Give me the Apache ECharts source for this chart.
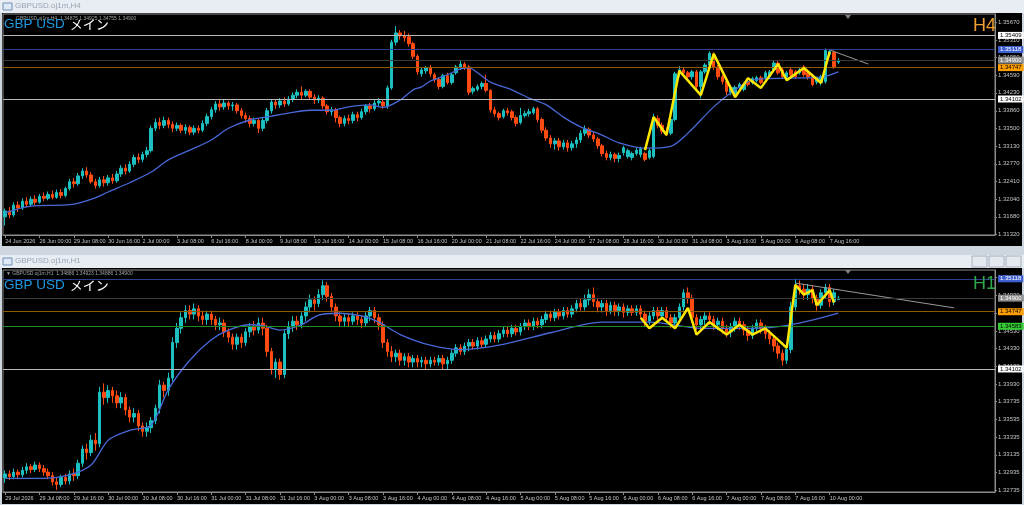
<!DOCTYPE html>
<html><head><meta charset="utf-8">
<script src="https://cdn.jsdelivr.net/npm/echarts@6/dist/echarts.min.js"></script>
<style>html,body{margin:0;padding:0;background:#d3dbe4}#c{width:1024px;height:505px}</style>
</head><body><div id="c"></div>
<script>
// ---------- tick labels ----------
const h4TickLabels=['24 Jun 2026','26 Jun 00:00','29 Jun 08:00','30 Jun 16:00','2 Jul 00:00','3 Jul 08:00','6 Jul 16:00','8 Jul 00:00','9 Jul 08:00','10 Jul 16:00','14 Jul 00:00','15 Jul 08:00','16 Jul 16:00','20 Jul 00:00','21 Jul 08:00','22 Jul 16:00','24 Jul 00:00','27 Jul 08:00','28 Jul 16:00','30 Jul 00:00','31 Jul 08:00','3 Aug 16:00','5 Aug 00:00','6 Aug 08:00','7 Aug 16:00'];
const h1TickLabels=['29 Jul 2026','29 Jul 08:00','29 Jul 16:00','30 Jul 00:00','30 Jul 08:00','30 Jul 16:00','31 Jul 00:00','31 Jul 08:00','31 Jul 16:00','3 Aug 00:00','3 Aug 08:00','3 Aug 16:00','4 Aug 00:00','4 Aug 08:00','4 Aug 16:00','5 Aug 00:00','5 Aug 08:00','5 Aug 16:00','6 Aug 00:00','6 Aug 08:00','6 Aug 16:00','7 Aug 00:00','7 Aug 08:00','7 Aug 16:00','10 Aug 00:00'];
const h4PriceTicks=[1.31320,1.31680,1.32040,1.32410,1.32770,1.33130,1.33500,1.33860,1.34230,1.34590,1.34950,1.35310,1.35670];
const h1PriceTicks=[1.32735,1.32935,1.33135,1.33335,1.33535,1.33735,1.33930,1.34130,1.34330,1.34530,1.34730,1.34930,1.35130];

// ---------- H4 candles [open, close, low, high] ----------
const h4Candles=[
[1.3168,1.3180,1.3150,1.3185],[1.3180,1.3172,1.3165,1.3188],[1.3172,1.3192,1.3168,1.3198],[1.3192,1.3186,1.3178,1.3200],
[1.3186,1.3200,1.3182,1.3206],[1.3200,1.3194,1.3188,1.3208],[1.3194,1.3204,1.3190,1.3210],[1.3204,1.3198,1.3192,1.3212],
[1.3198,1.3210,1.3195,1.3215],[1.3210,1.3206,1.3200,1.3218],[1.3206,1.3214,1.3202,1.3220],[1.3214,1.3208,1.3204,1.3222],
[1.3208,1.3218,1.3205,1.3224],[1.3218,1.3212,1.3206,1.3225],[1.3212,1.3226,1.3208,1.3230],[1.3226,1.3240,1.3222,1.3246],
[1.3240,1.3236,1.3228,1.3248],[1.3236,1.3252,1.3232,1.3258],[1.3252,1.3262,1.3246,1.3268],[1.3262,1.3254,1.3248,1.3270],
[1.3254,1.3240,1.3236,1.3260],[1.3240,1.3232,1.3226,1.3246],[1.3232,1.3244,1.3228,1.3250],[1.3244,1.3238,1.3230,1.3252],
[1.3238,1.3248,1.3232,1.3254],[1.3248,1.3242,1.3236,1.3256],[1.3242,1.3256,1.3238,1.3262],[1.3256,1.3268,1.3250,1.3274],
[1.3268,1.3262,1.3255,1.3276],[1.3262,1.3276,1.3258,1.3282],[1.3276,1.3290,1.3270,1.3296],[1.3290,1.3286,1.3278,1.3298],
[1.3286,1.3296,1.3280,1.3302],[1.3296,1.3304,1.3290,1.3312],[1.3304,1.3350,1.3300,1.3356],[1.3350,1.3362,1.3344,1.3370],
[1.3362,1.3356,1.3348,1.3372],[1.3356,1.3366,1.3350,1.3374],[1.3366,1.3358,1.3350,1.3372],[1.3358,1.3350,1.3342,1.3364],
[1.3350,1.3356,1.3344,1.3362],[1.3356,1.3346,1.3340,1.3360],[1.3346,1.3352,1.3338,1.3358],[1.3352,1.3342,1.3336,1.3356],
[1.3342,1.3350,1.3336,1.3356],[1.3350,1.3346,1.3340,1.3356],[1.3346,1.3360,1.3342,1.3366],[1.3360,1.3374,1.3354,1.3380],
[1.3374,1.3388,1.3368,1.3394],[1.3388,1.3400,1.3382,1.3406],[1.3400,1.3394,1.3386,1.3410],[1.3394,1.3402,1.3388,1.3408],
[1.3402,1.3396,1.3388,1.3406],[1.3396,1.3398,1.3386,1.3404],[1.3398,1.3386,1.3380,1.3402],[1.3386,1.3376,1.3370,1.3392],
[1.3376,1.3370,1.3362,1.3382],[1.3370,1.3360,1.3352,1.3376],[1.3360,1.3366,1.3354,1.3372],[1.3366,1.3350,1.3340,1.3370],
[1.3350,1.3366,1.3344,1.3372],[1.3366,1.3386,1.3360,1.3392],[1.3386,1.3404,1.3380,1.3410],[1.3404,1.3398,1.3390,1.3410],
[1.3398,1.3406,1.3392,1.3412],[1.3406,1.3400,1.3394,1.3414],[1.3400,1.3410,1.3396,1.3416],[1.3410,1.3418,1.3404,1.3424],
[1.3418,1.3424,1.3412,1.3430],[1.3424,1.3418,1.3410,1.3436],[1.3418,1.3426,1.3414,1.3430],[1.3426,1.3414,1.3408,1.3430],
[1.3414,1.3408,1.3400,1.3420],[1.3408,1.3412,1.3402,1.3418],[1.3412,1.3396,1.3390,1.3416],[1.3396,1.3384,1.3378,1.3400],
[1.3384,1.3388,1.3376,1.3394],[1.3388,1.3372,1.3362,1.3392],[1.3372,1.3360,1.3352,1.3376],[1.3360,1.3370,1.3354,1.3376],
[1.3370,1.3366,1.3358,1.3378],[1.3366,1.3378,1.3360,1.3384],[1.3378,1.3372,1.3364,1.3384],[1.3372,1.3384,1.3368,1.3390],
[1.3384,1.3396,1.3378,1.3400],[1.3396,1.3390,1.3382,1.3402],[1.3390,1.3402,1.3386,1.3408],[1.3402,1.3406,1.3396,1.3412],
[1.3404,1.3396,1.3390,1.3410],[1.3396,1.3433,1.3390,1.3438],[1.3433,1.3527,1.3429,1.3532],[1.3527,1.3546,1.3520,1.3560],
[1.3546,1.3540,1.3532,1.3552],[1.3540,1.3536,1.3528,1.3550],[1.3538,1.3524,1.3518,1.3545],[1.3524,1.3498,1.3492,1.3528],
[1.3498,1.3466,1.3460,1.3502],[1.3462,1.3470,1.3456,1.3474],[1.3468,1.3474,1.3462,1.3478],[1.3474,1.3462,1.3456,1.3480],
[1.3460,1.3450,1.3444,1.3464],[1.3450,1.3436,1.3430,1.3454],[1.3436,1.3458,1.3432,1.3462],[1.3458,1.3444,1.3440,1.3464],
[1.3444,1.3460,1.3440,1.3464],[1.3464,1.3476,1.3460,1.3480],[1.3476,1.3482,1.3470,1.3490],[1.3482,1.3476,1.3470,1.3486],
[1.3476,1.3424,1.3418,1.3480],[1.3426,1.3432,1.3420,1.3436],[1.3430,1.3436,1.3426,1.3440],[1.3436,1.3442,1.3430,1.3446],
[1.3442,1.3428,1.3424,1.3460],[1.3428,1.3388,1.3382,1.3430],[1.3388,1.3380,1.3374,1.3394],[1.3380,1.3372,1.3366,1.3384],
[1.3374,1.3386,1.3370,1.3390],[1.3386,1.3382,1.3376,1.3392],[1.3384,1.3372,1.3366,1.3388],[1.3372,1.3360,1.3354,1.3376],
[1.3362,1.3376,1.3358,1.3392],[1.3376,1.3380,1.3372,1.3386],[1.3380,1.3384,1.3374,1.3390],[1.3382,1.3390,1.3378,1.3394],
[1.3390,1.3368,1.3362,1.3394],[1.3368,1.3346,1.3340,1.3372],[1.3346,1.3330,1.3324,1.3352],[1.3330,1.3318,1.3310,1.3336],
[1.3318,1.3324,1.3306,1.3330],[1.3324,1.3312,1.3304,1.3330],[1.3312,1.3320,1.3306,1.3326],[1.3320,1.3310,1.3302,1.3326],
[1.3310,1.3318,1.3304,1.3324],[1.3318,1.3326,1.3310,1.3332],[1.3326,1.3340,1.3320,1.3346],[1.3340,1.3348,1.3334,1.3356],
[1.3348,1.3336,1.3330,1.3352],[1.3336,1.3328,1.3322,1.3342],[1.3328,1.3314,1.3308,1.3332],[1.3314,1.3298,1.3292,1.3318],
[1.3298,1.3290,1.3284,1.3304],[1.3290,1.3296,1.3284,1.3302],[1.3296,1.3288,1.3280,1.3300],[1.3288,1.3294,1.3280,1.3300],
[1.3300,1.3310,1.3294,1.3314],[1.3292,1.3304,1.3288,1.3308],[1.3290,1.3298,1.3284,1.3302],[1.3298,1.3305,1.3294,1.3310],
[1.3296,1.3308,1.3290,1.3312],[1.3298,1.3286,1.3282,1.3302],[1.3290,1.3304,1.3286,1.3308],[1.3292,1.3372,1.3288,1.3380],
[1.3370,1.3356,1.3350,1.3376],[1.3356,1.3344,1.3338,1.3362],[1.3344,1.3340,1.3334,1.3352],[1.3340,1.3368,1.3336,1.3372],
[1.3368,1.3462,1.3364,1.3466],[1.3462,1.3470,1.3456,1.3478],[1.3470,1.3464,1.3458,1.3474],[1.3464,1.3456,1.3450,1.3468],
[1.3456,1.3466,1.3450,1.3470],[1.3466,1.3436,1.3430,1.3470],[1.3436,1.3466,1.3412,1.3470],[1.3466,1.3480,1.3462,1.3484],
[1.3480,1.3504,1.3476,1.3508],[1.3502,1.3476,1.3470,1.3506],[1.3476,1.3456,1.3450,1.3480],[1.3456,1.3446,1.3440,1.3460],
[1.3446,1.3426,1.3418,1.3450],[1.3424,1.3434,1.3418,1.3438],[1.3420,1.3434,1.3414,1.3438],[1.3434,1.3440,1.3430,1.3444],
[1.3430,1.3440,1.3426,1.3444],[1.3446,1.3440,1.3436,1.3450],[1.3444,1.3452,1.3440,1.3456],[1.3448,1.3454,1.3444,1.3458],
[1.3454,1.3444,1.3440,1.3458],[1.3454,1.3464,1.3450,1.3468],[1.3456,1.3466,1.3452,1.3470],[1.3470,1.3484,1.3466,1.3490],
[1.3484,1.3464,1.3460,1.3488],[1.3470,1.3456,1.3452,1.3474],[1.3456,1.3464,1.3452,1.3468],[1.3470,1.3460,1.3456,1.3474],
[1.3466,1.3456,1.3452,1.3470],[1.3464,1.3470,1.3460,1.3474],[1.3476,1.3460,1.3456,1.3480],[1.3464,1.3456,1.3450,1.3468],
[1.3456,1.3440,1.3436,1.3460],[1.3445,1.3452,1.3440,1.3456],[1.3444,1.3456,1.3438,1.3460],[1.3446,1.3510,1.3442,1.3514],
[1.3502,1.3508,1.3498,1.3512],[1.3506,1.3476,1.3472,1.3510],[1.3486,1.3490,1.3482,1.3494]
];

// ---------- H1 candles [open, close, low, high] ----------
const h1Candles=[
[1.3288,1.3292,1.3282,1.3296],[1.3292,1.3289,1.3285,1.3296],[1.3289,1.3294,1.3286,1.3298],[1.3294,1.3291,1.3287,1.3297],
[1.3291,1.3296,1.3288,1.3300],[1.3296,1.3300,1.3292,1.3304],[1.3300,1.3297,1.3293,1.3303],[1.3297,1.3302,1.3294,1.3306],
[1.3302,1.3298,1.3294,1.3305],[1.3298,1.3294,1.3290,1.3302],[1.3294,1.3290,1.3286,1.3298],[1.3290,1.3283,1.3279,1.3294],
[1.3283,1.3280,1.3274,1.3288],[1.3280,1.3288,1.3277,1.3291],[1.3288,1.3284,1.3280,1.3292],[1.3284,1.3292,1.3280,1.3296],
[1.3292,1.3290,1.3284,1.3298],[1.3290,1.3304,1.3286,1.3308],[1.3304,1.3320,1.3300,1.3324],[1.3320,1.3316,1.3308,1.3326],
[1.3316,1.3330,1.3312,1.3336],[1.3330,1.3326,1.3318,1.3338],[1.3326,1.3384,1.3322,1.3390],[1.3384,1.3378,1.3370,1.3394],
[1.3378,1.3386,1.3372,1.3392],[1.3386,1.3380,1.3372,1.3390],[1.3380,1.3372,1.3366,1.3386],[1.3372,1.3378,1.3366,1.3384],
[1.3378,1.3364,1.3358,1.3382],[1.3364,1.3356,1.3350,1.3368],[1.3356,1.3360,1.3350,1.3366],[1.3360,1.3346,1.3340,1.3364],
[1.3346,1.3340,1.3334,1.3350],[1.3340,1.3344,1.3334,1.3350],[1.3344,1.3352,1.3338,1.3356],[1.3352,1.3366,1.3348,1.3370],
[1.3366,1.3392,1.3360,1.3398],[1.3392,1.3386,1.3378,1.3396],[1.3386,1.3400,1.3380,1.3406],[1.3400,1.3440,1.3396,1.3446],
[1.3440,1.3456,1.3434,1.3462],[1.3456,1.3468,1.3450,1.3474],[1.3468,1.3476,1.3462,1.3482],[1.3476,1.3472,1.3466,1.3482],
[1.3472,1.3478,1.3466,1.3484],[1.3478,1.3470,1.3464,1.3482],[1.3470,1.3466,1.3460,1.3476],[1.3466,1.3472,1.3460,1.3476],
[1.3472,1.3466,1.3460,1.3476],[1.3466,1.3460,1.3454,1.3470],[1.3460,1.3462,1.3454,1.3468],[1.3462,1.3452,1.3446,1.3466],
[1.3452,1.3446,1.3440,1.3456],[1.3446,1.3438,1.3432,1.3450],[1.3438,1.3446,1.3432,1.3450],[1.3446,1.3440,1.3434,1.3450],
[1.3440,1.3452,1.3436,1.3456],[1.3452,1.3458,1.3446,1.3462],[1.3458,1.3454,1.3448,1.3464],[1.3454,1.3462,1.3450,1.3468],
[1.3462,1.3456,1.3448,1.3468],[1.3456,1.3430,1.3424,1.3460],[1.3430,1.3410,1.3404,1.3434],[1.3410,1.3418,1.3400,1.3422],
[1.3418,1.3404,1.3398,1.3422],[1.3404,1.3450,1.3400,1.3454],[1.3450,1.3458,1.3444,1.3464],[1.3458,1.3464,1.3452,1.3470],
[1.3464,1.3460,1.3454,1.3470],[1.3460,1.3470,1.3456,1.3474],[1.3470,1.3480,1.3464,1.3486],[1.3480,1.3488,1.3474,1.3494],
[1.3488,1.3484,1.3476,1.3492],[1.3484,1.3494,1.3480,1.3500],[1.3494,1.3504,1.3488,1.3510],[1.3504,1.3492,1.3486,1.3508],
[1.3492,1.3480,1.3474,1.3496],[1.3480,1.3470,1.3464,1.3484],[1.3470,1.3464,1.3458,1.3474],[1.3464,1.3468,1.3458,1.3472],
[1.3468,1.3464,1.3458,1.3472],[1.3464,1.3470,1.3460,1.3474],[1.3470,1.3466,1.3460,1.3474],[1.3466,1.3462,1.3456,1.3470],
[1.3462,1.3470,1.3458,1.3474],[1.3470,1.3476,1.3464,1.3480],[1.3476,1.3468,1.3462,1.3480],[1.3468,1.3460,1.3454,1.3472],
[1.3460,1.3440,1.3434,1.3464],[1.3440,1.3430,1.3424,1.3444],[1.3430,1.3424,1.3418,1.3436],[1.3424,1.3428,1.3418,1.3432],
[1.3428,1.3420,1.3414,1.3432],[1.3420,1.3424,1.3414,1.3428],[1.3424,1.3418,1.3412,1.3428],[1.3418,1.3422,1.3412,1.3426],
[1.3422,1.3418,1.3412,1.3426],[1.3418,1.3420,1.3412,1.3424],[1.3420,1.3416,1.3410,1.3424],[1.3416,1.3420,1.3412,1.3424],
[1.3420,1.3418,1.3414,1.3424],[1.3418,1.3422,1.3414,1.3426],[1.3422,1.3416,1.3410,1.3426],[1.3416,1.3420,1.3410,1.3424],
[1.3420,1.3428,1.3416,1.3432],[1.3428,1.3434,1.3424,1.3438],[1.3434,1.3430,1.3426,1.3438],[1.3430,1.3436,1.3426,1.3440],
[1.3436,1.3440,1.3430,1.3444],[1.3440,1.3436,1.3432,1.3444],[1.3436,1.3442,1.3432,1.3446],[1.3442,1.3438,1.3434,1.3446],
[1.3438,1.3444,1.3434,1.3448],[1.3444,1.3448,1.3440,1.3452],[1.3448,1.3444,1.3440,1.3452],[1.3444,1.3450,1.3440,1.3454],
[1.3450,1.3454,1.3446,1.3458],[1.3454,1.3450,1.3446,1.3458],[1.3450,1.3456,1.3446,1.3460],[1.3456,1.3452,1.3448,1.3460],
[1.3452,1.3458,1.3448,1.3462],[1.3458,1.3462,1.3454,1.3466],[1.3462,1.3458,1.3454,1.3466],[1.3458,1.3464,1.3454,1.3468],
[1.3464,1.3460,1.3456,1.3468],[1.3460,1.3466,1.3456,1.3470],[1.3466,1.3472,1.3462,1.3476],[1.3472,1.3468,1.3464,1.3476],
[1.3468,1.3474,1.3464,1.3478],[1.3474,1.3470,1.3466,1.3478],[1.3470,1.3476,1.3466,1.3480],[1.3476,1.3472,1.3468,1.3480],
[1.3472,1.3478,1.3468,1.3482],[1.3478,1.3484,1.3474,1.3488],[1.3484,1.3480,1.3476,1.3490],[1.3480,1.3488,1.3476,1.3494],
[1.3488,1.3494,1.3482,1.3500],[1.3494,1.3486,1.3480,1.3502],[1.3486,1.3480,1.3474,1.3490],[1.3480,1.3484,1.3474,1.3488],
[1.3484,1.3476,1.3470,1.3488],[1.3476,1.3482,1.3472,1.3486],[1.3482,1.3476,1.3470,1.3486],[1.3476,1.3480,1.3470,1.3484],
[1.3480,1.3474,1.3468,1.3484],[1.3474,1.3478,1.3470,1.3482],[1.3478,1.3474,1.3470,1.3482],[1.3474,1.3478,1.3470,1.3482],
[1.3478,1.3472,1.3468,1.3482],[1.3472,1.3464,1.3458,1.3476],[1.3464,1.3470,1.3460,1.3474],[1.3470,1.3476,1.3466,1.3480],
[1.3476,1.3470,1.3464,1.3480],[1.3470,1.3476,1.3466,1.3480],[1.3476,1.3468,1.3462,1.3480],[1.3468,1.3462,1.3456,1.3472],
[1.3462,1.3468,1.3458,1.3472],[1.3468,1.3480,1.3464,1.3484],[1.3480,1.3496,1.3476,1.3500],[1.3496,1.3490,1.3484,1.3502],
[1.3490,1.3468,1.3462,1.3494],[1.3468,1.3460,1.3454,1.3472],[1.3460,1.3466,1.3454,1.3470],[1.3466,1.3470,1.3460,1.3474],
[1.3470,1.3466,1.3460,1.3474],[1.3466,1.3460,1.3454,1.3470],[1.3460,1.3464,1.3454,1.3468],[1.3464,1.3456,1.3450,1.3468],
[1.3456,1.3452,1.3446,1.3460],[1.3452,1.3458,1.3446,1.3462],[1.3458,1.3464,1.3452,1.3468],[1.3464,1.3460,1.3454,1.3468],
[1.3460,1.3454,1.3448,1.3464],[1.3454,1.3448,1.3442,1.3458],[1.3448,1.3456,1.3444,1.3460],[1.3456,1.3462,1.3452,1.3466],
[1.3462,1.3456,1.3450,1.3466],[1.3456,1.3450,1.3444,1.3460],[1.3450,1.3444,1.3438,1.3454],[1.3444,1.3436,1.3430,1.3448],
[1.3436,1.3428,1.3422,1.3440],[1.3428,1.3420,1.3414,1.3432],[1.3420,1.3432,1.3416,1.3436],[1.3432,1.3480,1.3428,1.3486],
[1.3480,1.3504,1.3476,1.3512],[1.3504,1.3500,1.3494,1.3510],[1.3500,1.3494,1.3488,1.3506],[1.3494,1.3500,1.3488,1.3506],
[1.3500,1.3490,1.3484,1.3504],[1.3490,1.3482,1.3476,1.3494],[1.3482,1.3496,1.3478,1.3500],[1.3496,1.3502,1.3490,1.3506],
[1.3502,1.3486,1.3480,1.3506],[1.3486,1.3496,1.3482,1.3500],[1.34886,1.34900,1.34886,1.34923]
];

// ---------- moving averages [bar, price] ----------
const h4Ma=[[0,1.3176],[6,1.3190],[13,1.3192],[16,1.3194],[21,1.3207],[24,1.3219],[29,1.3238],[34,1.3260],[38,1.3285],[43,1.3305],[48,1.3326],[52,1.3350],[57,1.3367],[62,1.3375],[66,1.3381],[71,1.3387],[76,1.3387],[80,1.3394],[85,1.3398],[88,1.3393],[92,1.3408],[95,1.3429],[97,1.3435],[99,1.3447],[103,1.3460],[106,1.3472],[108,1.3474],[110,1.3464],[113,1.3445],[118,1.3429],[122,1.3412],[126,1.3398],[130,1.3373],[134,1.3353],[139,1.3336],[143,1.3320],[149,1.3309],[155,1.3313],[159,1.3340],[165,1.3394],[170,1.3429],[174,1.3449],[182,1.3453],[190,1.3455],[194,1.3466]];
const h1Ma=[[0,1.3287],[8,1.3287],[15,1.3291],[20,1.3302],[24,1.3330],[29,1.3341],[34,1.3347],[38,1.3387],[43,1.3420],[48,1.3443],[52,1.3454],[57,1.3460],[60,1.3459],[64,1.3454],[69,1.3460],[73,1.3471],[78,1.3473],[83,1.3470],[87,1.3463],[92,1.3449],[99,1.3437],[106,1.3432],[115,1.3437],[127,1.3451],[139,1.3463],[150,1.3463],[162,1.3456],[173,1.3456],[183,1.3460],[194,1.3473]];

// ---------- zigzag [bar, price] ----------
const h4ZigZag=[[149,1.3305],[151,1.3373],[154,1.3336],[157,1.3468],[162,1.3418],[165,1.3503],[170,1.3414],[173,1.3453],[176,1.3433],[180,1.3482],[182,1.3449],[186,1.3474],[190,1.3443],[192,1.3507]];
const h1ZigZag=[[148,1.3468],[150,1.3456],[153,1.3468],[156,1.3456],[159,1.3479],[161,1.3449],[164,1.3463],[168,1.3449],[171,1.3460],[174,1.3449],[177,1.3456],[180,1.3443],[182,1.3434],[184,1.3505],[186,1.3494],[188,1.3499],[189,1.3482],[192,1.3499],[193,1.3485]];

// ---------- trend lines and horizontal levels ----------
const h4Trend=[[192,1.3511],[201,1.3482]];
const h1Trend=[[184,1.3507],[221,1.3479]];
const h4Levels=[1.35409,1.35118,1.34900,1.34747,1.34102];
const h1Levels=[1.35118,1.34900,1.34747,1.34583,1.34102];

// ---------- styles ----------
const h4LevelKinds=['white','blue','gray','orange','white'];
const h1LevelKinds=['blue','gray','orange','green','white'];
const levelStyle={
  white:{line:'#b8b8b8',bg:'#ffffff',fg:'#000000'},
  blue:{line:'#2b4190',bg:'#3f60d2',fg:'#ffffff'},
  gray:{line:'#3a3a3a',bg:'#8c8c8c',fg:'#ffffff'},
  orange:{line:'#8c5a00',bg:'#ffa000',fg:'#000000'},
  green:{line:'#1f8a1f',bg:'#33cc33',fg:'#000000'}
};
const SLOTS=231;
const slots=[];for(let i=0;i<SLOTS;i++)slots.push(String(i));
const AX='#8c8c8c', TXT='#c4c4c4', FONT='Liberation Sans';

function xAxisCfg(g,labels){
  const last=(labels.length-1)*8;
  return {type:'category',gridIndex:g,data:slots,boundaryGap:true,
    axisLine:{show:true,lineStyle:{color:AX}},
    axisTick:{show:true,alignWithLabel:true,length:3,interval:(i)=>i%8===0&&i<=last,lineStyle:{color:AX}},
    axisLabel:{interval:(i)=>i%8===0&&i<=last,formatter:(v,i)=>labels[i/8]||'',color:TXT,fontSize:5.5,fontFamily:FONT,align:'left',margin:3},
    splitLine:{show:false}};
}
function yAxisCfg(g,min,max,ticks){
  return {type:'value',gridIndex:g,position:'right',min,max,
    splitLine:{show:false},
    axisLine:{show:true,lineStyle:{color:AX}},
    axisTick:{show:true,length:2,customValues:ticks,lineStyle:{color:AX}},
    axisLabel:{show:true,customValues:ticks,formatter:v=>v.toFixed(5),color:TXT,fontSize:6,fontFamily:FONT,margin:3}};
}
function levelLines(levels,kinds){
  return {symbol:['none','none'],silent:true,animation:false,precision:5,
    data:levels.map((v,i)=>{const s=levelStyle[kinds[i]];return {yAxis:v,
      lineStyle:{color:s.line,width:1,type:'solid'},
      label:{show:true,position:'end',distance:3,formatter:v.toFixed(5),backgroundColor:s.bg,color:s.fg,fontSize:6,fontFamily:FONT,padding:[1,2,0,2]}};})};
}
const candleStyle={color:'#1cc0c0',color0:'#ff4a12',borderColor:'#1cc0c0',borderColor0:'#ff4a12',borderWidth:1};
const richTitle={a:{color:'#1e9be0',fontSize:13.5,fontWeight:'normal',fontFamily:FONT},b:{color:'#ffffff',fontSize:13,fontWeight:'normal',fontFamily:'Noto Sans CJK JP'}};

const chart=echarts.init(document.getElementById('c'),null,{renderer:'canvas'});
chart.setOption({
  animation:false,
  backgroundColor:'#cdd5df',
  graphic:[
    {type:'rect',z:-10,shape:{x:0,y:0,width:1024,height:13},style:{fill:'#e8edf3'}},
    {type:'rect',z:-10,shape:{x:2,y:13,width:1020,height:233},style:{fill:'#000000'}},
    {type:'rect',z:-10,shape:{x:0,y:255,width:1024,height:13},style:{fill:'#e8edf3'}},
    {type:'rect',z:-10,shape:{x:2,y:268,width:1020,height:236},style:{fill:'#000000'}},
    {type:'rect',z:5,shape:{x:3,y:3,width:9,height:7},style:{fill:'#dfe8f4',stroke:'#6c8fb8',lineWidth:1}},
    {type:'text',z:5,left:15,top:2,style:{text:'GBPUSD.oj1m,H4',fill:'#9aa4b2',fontSize:8,fontFamily:FONT}},
    {type:'rect',z:5,shape:{x:3,y:258,width:9,height:7},style:{fill:'#dfe8f4',stroke:'#6c8fb8',lineWidth:1}},
    {type:'text',z:5,left:15,top:257,style:{text:'GBPUSD.oj1m,H1',fill:'#9aa4b2',fontSize:8,fontFamily:FONT}},
    {type:'rect',z:5,shape:{x:972,y:256,width:15,height:11},style:{fill:'#e4e9ef',stroke:'#a8b0bc',lineWidth:1}},
    {type:'rect',z:5,shape:{x:989,y:256,width:15,height:11},style:{fill:'#e4e9ef',stroke:'#a8b0bc',lineWidth:1}},
    {type:'rect',z:5,shape:{x:1006,y:256,width:15,height:11},style:{fill:'#e4e9ef',stroke:'#a8b0bc',lineWidth:1}},
    {type:'text',z:5,left:16,top:16,style:{text:'GBPUSD.oj1m,H4  1.34875 1.34925 1.34755 1.34900',fill:'#a0a0a0',fontSize:5,fontFamily:FONT}},
    {type:'text',z:5,left:6,top:271,style:{text:'\u25BC GBPUSD.oj1m,H1  1.34886 1.34923 1.34886 1.34900',fill:'#a0a0a0',fontSize:5,fontFamily:FONT}},
    {type:'polygon',z:5,shape:{points:[[845,15],[851,15],[848,19]]},style:{fill:'#808080'}},
    {type:'polygon',z:5,shape:{points:[[845,270],[851,270],[848,274]]},style:{fill:'#808080'}}
  ],
  title:[
    {left:-1,top:10,text:'{a|GBP USD} {b|メイン}',textStyle:{rich:richTitle}},
    {left:-1,top:271,text:'{a|GBP USD} {b|メイン}',textStyle:{rich:richTitle}},
    {left:968,top:12,text:'H4',textStyle:{color:'#f0a030',fontSize:18,fontWeight:'normal',fontFamily:FONT}},
    {left:968,top:270,text:'H1',textStyle:{color:'#2fa84c',fontSize:18,fontWeight:'normal',fontFamily:FONT}}
  ],
  grid:[
    {left:3,right:29,top:14,height:221,show:true,borderColor:AX,borderWidth:1,backgroundColor:'#000'},
    {left:3,right:29,top:270,height:222,show:true,borderColor:AX,borderWidth:1,backgroundColor:'#000'}
  ],
  xAxis:[xAxisCfg(0,h4TickLabels),xAxisCfg(1,h1TickLabels)],
  yAxis:[yAxisCfg(0,1.31306,1.35849,h4PriceTicks),yAxisCfg(1,1.32716,1.35217,h1PriceTicks)],
  series:[
    {type:'line',xAxisIndex:0,yAxisIndex:0,data:[],showSymbol:false,markLine:levelLines(h4Levels,h4LevelKinds),z:2},
    {type:'candlestick',xAxisIndex:0,yAxisIndex:0,data:h4Candles,barWidth:3,itemStyle:candleStyle,z:3},
    {type:'line',xAxisIndex:0,yAxisIndex:0,data:h4Ma,showSymbol:false,smooth:0.3,lineStyle:{color:'#4868d8',width:1.3},z:4},
    {type:'line',xAxisIndex:0,yAxisIndex:0,data:h4ZigZag,showSymbol:false,lineStyle:{color:'#ffe800',width:2.5},z:5},
    {type:'line',xAxisIndex:0,yAxisIndex:0,data:h4Trend,showSymbol:false,lineStyle:{color:'#9a9a9a',width:1},z:4},
    {type:'line',xAxisIndex:1,yAxisIndex:1,data:[],showSymbol:false,markLine:levelLines(h1Levels,h1LevelKinds),z:2},
    {type:'candlestick',xAxisIndex:1,yAxisIndex:1,data:h1Candles,barWidth:3,itemStyle:candleStyle,z:3},
    {type:'line',xAxisIndex:1,yAxisIndex:1,data:h1Ma,showSymbol:false,smooth:0.3,lineStyle:{color:'#4868d8',width:1.3},z:4},
    {type:'line',xAxisIndex:1,yAxisIndex:1,data:h1ZigZag,showSymbol:false,lineStyle:{color:'#ffe800',width:2.5},z:5},
    {type:'line',xAxisIndex:1,yAxisIndex:1,data:h1Trend,showSymbol:false,lineStyle:{color:'#9a9a9a',width:1},z:4}
  ]
});
</script></body></html>
